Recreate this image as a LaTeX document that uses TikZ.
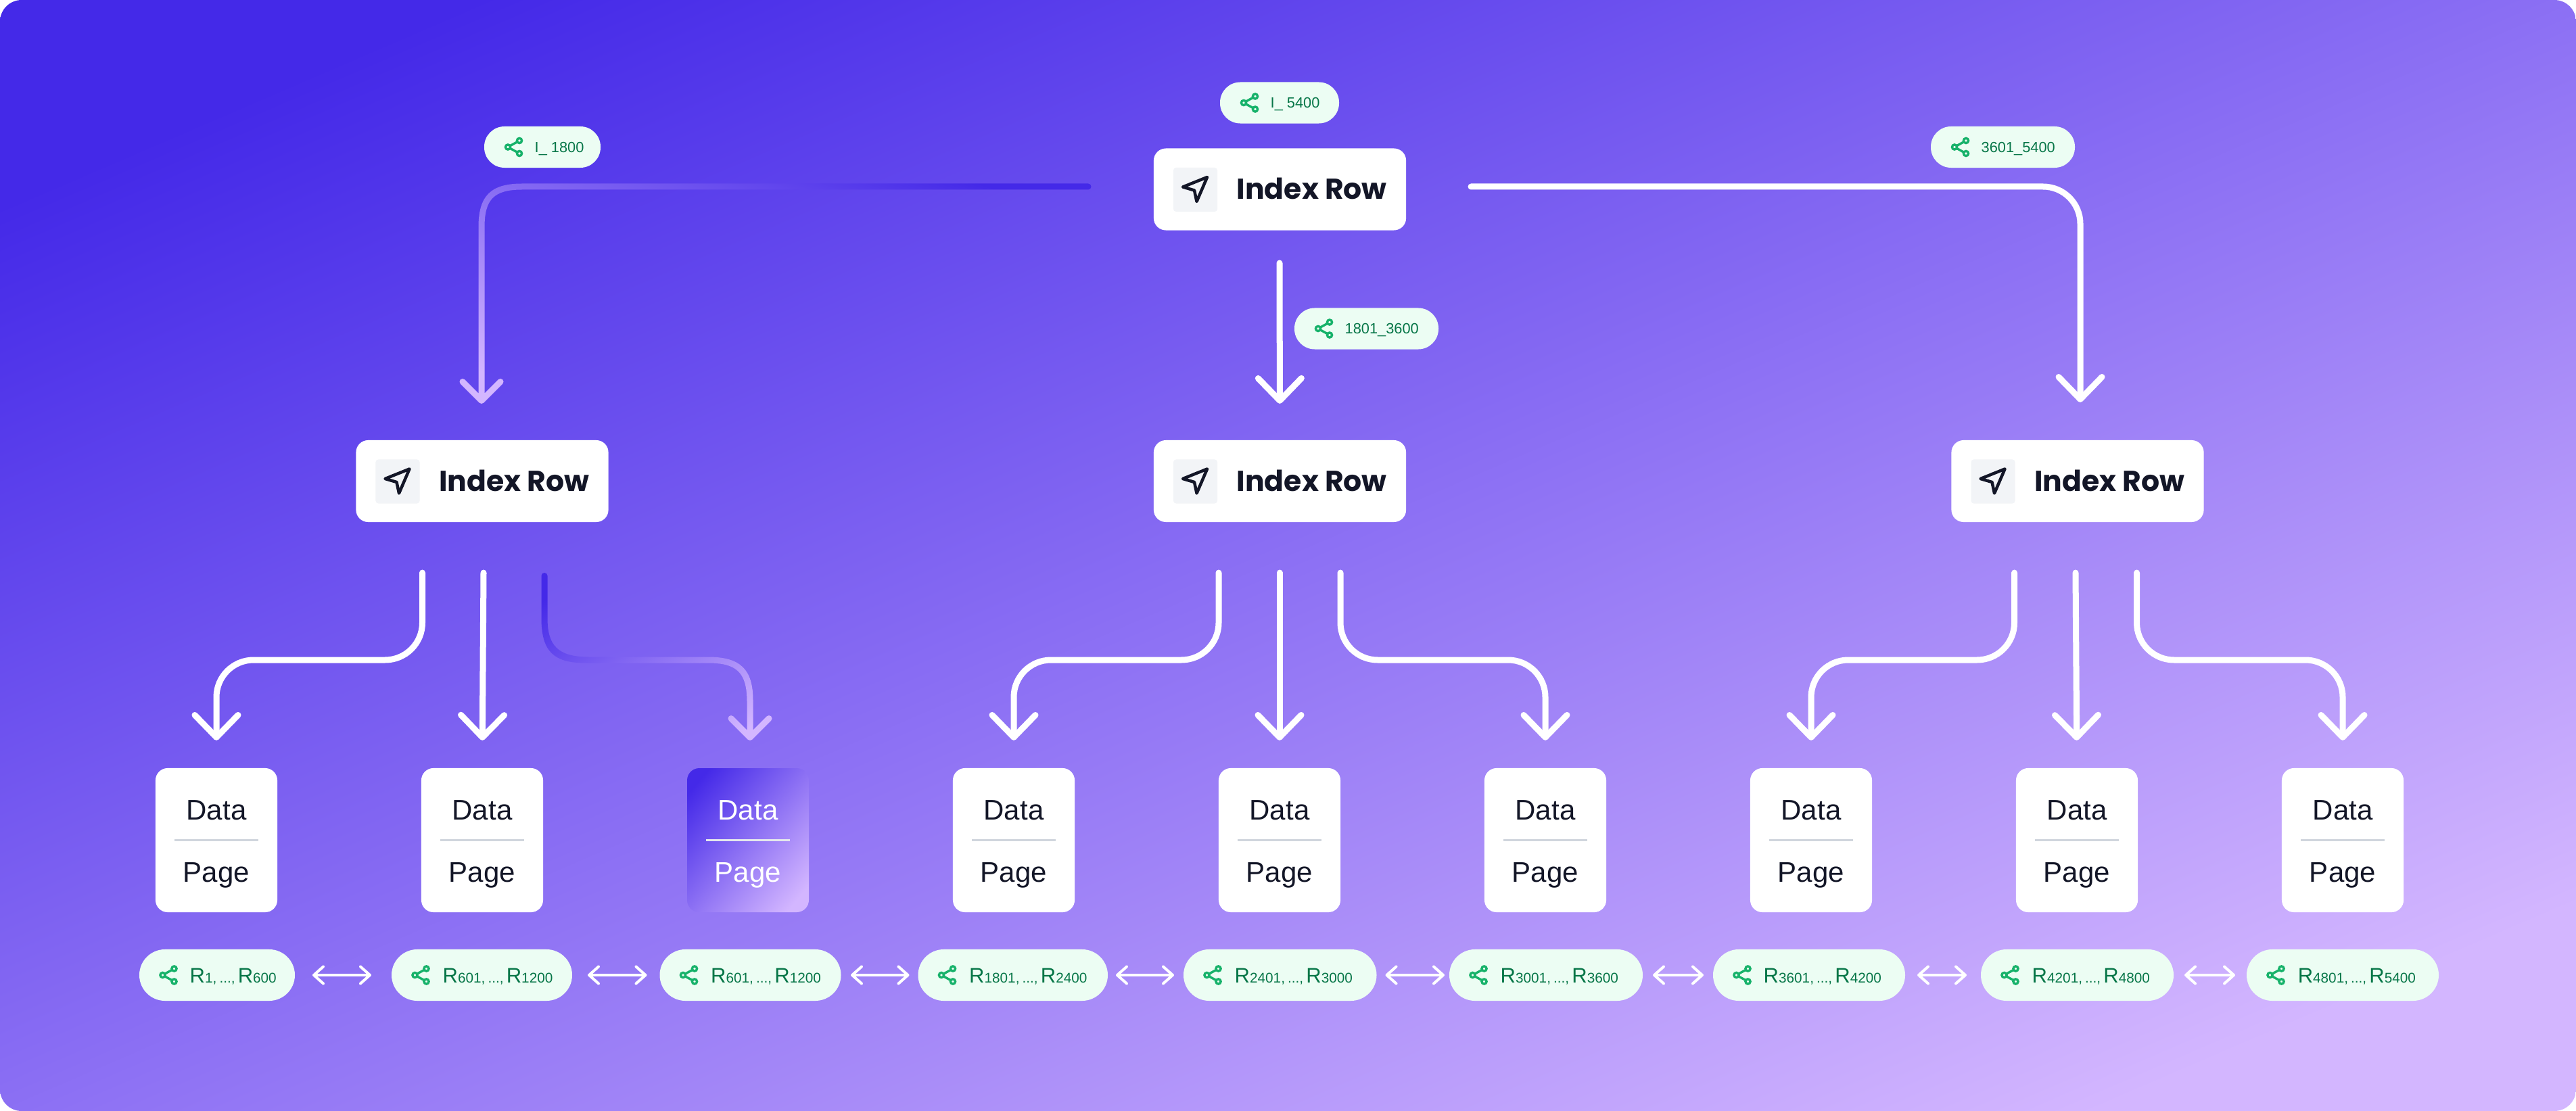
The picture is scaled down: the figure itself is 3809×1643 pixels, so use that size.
\documentclass[tikz,border=0pt]{standalone}
\usepackage{fontspec}
\usetikzlibrary{arrows.meta,calc}
\setmainfont{Liberation Sans}
\newfontfamily\headfont{Poppins}

\definecolor{rampA}{HTML}{4429E8}
\definecolor{rampB}{HTML}{D3B6FF}
\definecolor{inkdark}{HTML}{131627}
\definecolor{iconbg}{HTML}{F2F4F7}
\definecolor{rule}{HTML}{D0D5DD}
\definecolor{rulelight}{HTML}{E4E7EC}
\definecolor{pillbg}{HTML}{ECFDF3}
\definecolor{pillicon}{HTML}{17B26A}
\definecolor{pilltext}{HTML}{067647}

% Colour ramp for the backdrop, the highlighted card and the two highlighted arms.
% On a square of side S the ramp runs over 0.2 S around the centre of the square.
\pgfdeclarehorizontalshading{bgramp}{100bp}{color(0bp)=(rampA); color(45bp)=(rampA); color(55bp)=(rampB); color(100bp)=(rampB)}
% #1,#2 centre, #3 side of the square, #4 direction of the ramp
\newcommand{\rampsquare}[4]{\shade[shading=bgramp,shading angle=#4] ({#1-#3/2},{#2-#3/2}) rectangle ({#1+#3/2},{#2+#3/2});}

% Stem end and arrow head of a highlighted arm, outlined so that it can be shaded
\newcommand{\chevronoutline}[2]{
  -- ({#1-24.82},{#2-31.18}) arc[start angle=-45,end angle=-225,radius=4.5]
  -- ({#1-3.18},{#2+3.18}) arc[start angle=135,end angle=45,radius=4.5]
  -- ({#1+31.18},{#2-24.82}) arc[start angle=45,end angle=-135,radius=4.5]
  -- ({#1+4.5},{#2-10.86})
}
% Range label with large letters and small numbers
\newcommand{\rangelabel}[2]{{\fontsize{8.82pt}{10pt}\selectfont R}{\fontsize{5.9pt}{8pt}\selectfont #1,\kern.2em...,\kern.2em}{\fontsize{8.82pt}{10pt}\selectfont R}{\fontsize{5.9pt}{8pt}\selectfont #2}}

\tikzset{
  x=0.01cm,y=-0.01cm,
  indexcard/.style={fill=white,rounded corners=0.18cm,minimum width=3.73cm,minimum height=1.21cm,inner sep=0pt,outer sep=0pt},
  datacard/.style={rounded corners=0.18cm,minimum width=1.8cm,minimum height=2.13cm,inner sep=0pt,outer sep=0pt},
  iconsquare/.style={fill=iconbg,rounded corners=0.04cm,minimum size=0.65cm,inner sep=0pt},
  headtext/.style={anchor=base west,inner sep=0pt,text=inkdark,font=\headfont\bfseries\fontsize{12.1pt}{14pt}\selectfont},
  datatext/.style={anchor=base,inner sep=0pt,text=inkdark,font=\fontsize{11.95pt}{14pt}\selectfont},
  pillsmall/.style={fill=pillbg,rounded corners=0.30cm,minimum height=0.61cm,inner sep=0pt,outer sep=0pt},
  pillbig/.style={fill=pillbg,rounded corners=0.38cm,minimum height=0.76cm,inner sep=0pt,outer sep=0pt},
  pilltxt/.style={anchor=base west,inner sep=0pt,text=pilltext,font=\fontsize{6.2pt}{8pt}\selectfont},
  flow/.style={draw=white,line width=0.09cm,line cap=round,line join=round,rounded corners=0.55cm,
    -{Straight Barb[length=0.33cm,width=0.64cm,round]}},
  link/.style={draw=white,line width=0.04cm,line cap=round,
    {Straight Barb[length=0.14cm,width=0.25cm,round]}-{Straight Barb[length=0.14cm,width=0.25cm,round]}},
  nodelink/.pic={
    \draw[draw=pillicon,line width=0.034cm] (-8.5,0) circle[radius=3.6] (8.5,-9.5) circle[radius=3.6] (8.5,9.5) circle[radius=3.6];
    \draw[draw=pillicon,line width=0.034cm] (-5.4,-1.8) -- (5.4,-7.7) (-5.4,1.8) -- (5.4,7.7);
  },
  navicon/.pic={
    \draw[draw=inkdark,line width=0.045cm,line join=round,line cap=round]
      (17.5,-18.5) -- (-18.5,-4) -- (-1.5,1) -- (2,17.5) -- cycle;
  },
}

\begin{document}
\begin{tikzpicture}
\useasboundingbox (0,0) rectangle (3809,1643);
\fill[white] (0,0) rectangle (3809,1643);
\begin{scope}
  \clip[rounded corners=0.32cm] (0,0) rectangle (3809,1643);
  \rampsquare{1904.5}{821.5}{12330}{-66.7}
\end{scope}

% Index row cards
\foreach \n/\x/\y in {0/1892.5/280, 1/713/711.5, 2/1892.5/711.5, 3/3072/711.5}{
  \node[indexcard] (idx\n) at (\x,\y) {};
  \node[iconsquare] (idxicon\n) at (\x-125,\y+0.5) {};
  \pic at (\x-125,\y+0.5) {navicon};
  \node[headtext] (idxtext\n) at (\x-64.5,\y+15) {Index Row};
}

% Data page cards
\foreach \n/\x in {1/320,2/713,4/1499,5/1892,6/2285,7/2678,8/3071,9/3464}{
  \node[datacard,fill=white] (d\n) at (\x,1242.5) {};
  \node[datatext] (dtop\n) at (\x,1212) {Data};
  \node[datatext] (dbot\n) at (\x,1304) {Page};
  \draw[draw=rule,line width=0.03cm] (\x-62,1242) -- (\x+62,1242);
}
\begin{scope}
  \clip[rounded corners=0.18cm] (1016,1136) rectangle (1196,1349);
  \rampsquare{1106}{1242.5}{1127}{-40.2}
\end{scope}
\node[datacard] (d3) at (1106,1242.5) {};
\node[datatext,text=white] (dtop3) at (1106,1212) {Data};
\node[datatext,text=white] (dbot3) at (1106,1304) {Page};
\draw[draw=rulelight,line width=0.03cm] (1044,1242) -- (1168,1242);

% Labels above the index rows
\foreach \n/\x/\y/\w/\t in {a/802/217.5/172/{I\_ 1800}, b/1892/152/176/{I\_ 5400}, c/2020.5/486/213/{1801\_3600}, d/2961.5/217.5/213/{3601\_5400}}{
  \node[pillsmall,minimum width=\w*0.01cm] (top\n) at (\x,\y) {};
  \pic at ($(top\n.west)+(43.5,0)$) {nodelink};
  \node[pilltxt] (toptext\n) at ($(top\n.west)+(74,7.7)$) {\t};
}

% Range labels under the data pages
\foreach \n/\l/\r/\a/\b/\tx in {1/206/436/1/600/74, 2/579/846/601/1200/75, 3/975.5/1243.5/601/1200/75,
  4/1357.5/1638/1801/2400/75, 5/1750/2035.5/2401/3000/75, 6/2143/2429/3001/3600/75,
  7/2533/2817/3601/4200/74, 8/2929/3214/4201/4800/75, 9/3322/3606/4801/5400/75}{
  \node[pillbig,minimum width=(\r-\l)*0.01cm] (r\n) at ({(\l+\r)/2},1442) {};
  \pic at ($(r\n.west)+(43,0)$) {nodelink};
  \node[pilltxt] (rtext\n) at ($(r\n.west)+(\tx,11)$) {\rangelabel{\a}{\b}};
}

% Links between neighbouring range labels
\foreach \p/\q/\sa/\sb in {1/2/26/30, 2/3/23/19, 3/4/14.5/13, 4/5/12/14, 5/6/13/7, 6/7/15/14, 7/8/18/21, 8/9/16/17}{
  \draw[link,shorten <=\sa*0.01cm,shorten >=\sb*0.01cm] (r\p.east) -- (r\q.west);
}

% Start points of the connectors
\coordinate (rootright) at (2175,276);
\coordinate (rightin) at (3076,595);
\coordinate (rootdown) at (1892,389);
\coordinate (midlevel) at (0,976);

\draw[flow] (rootright) -- (rootright -| rightin) -- (rightin);
\draw[flow,shorten >=0.54cm] (rootdown) -- (idx2.north);

% Branches out of the three lower index rows
\foreach \c/\sx in {1/624.5,4/1802,7/2978.5,6/1982,9/3159.5}{
  \coordinate (st\c) at (\sx,847);
  \draw[flow,shorten >=0.41cm] (st\c) -- (st\c |- midlevel) -- (midlevel -| d\c.north) -- (d\c.north);
}
\foreach \c/\sx in {2/715,5/1892,8/3069}{
  \coordinate (st\c) at (\sx,847);
  \draw[flow,rounded corners=0pt,shorten >=0.41cm] (st\c) -- (d\c.north);
}

% Highlighted arm from the root to the left index row
\begin{scope}
  \clip
  (1609,271.5) -- (772,271.5) .. controls (725,271.5) and (707.5,290) .. (707.5,336)
  -- (707.5,581.64) \chevronoutline{712}{592.5}
  -- (716.5,336) .. controls (716.5,295) and (730,280.5) .. (772,280.5)
  -- (1609,280.5) arc[start angle=90,end angle=-90,radius=4.5] -- cycle;
  \rampsquare{1146.5}{434}{2520}{-109.2}
\end{scope}

% Highlighted arm from the left index row to the third data page
\begin{scope}
  \clip
  (809.5,851.5) arc[start angle=0,end angle=-180,radius=4.5]
  -- (800.5,914) .. controls (800.5,965) and (820,980.5) .. (867,980.5)
  -- (1047,980.5) .. controls (1090,980.5) and (1104.5,995) .. (1104.5,1038)
  -- (1104.5,1079.64) \chevronoutline{1109}{1090.5}
  -- (1113.5,1036) .. controls (1113.5,990) and (1095,971.5) .. (1047,971.5)
  -- (871,971.5) .. controls (825,971.5) and (809.5,955) .. (809.5,914) -- cycle;
  \rampsquare{970.5}{971}{1645}{-54}
\end{scope}
\end{tikzpicture}
\end{document}
